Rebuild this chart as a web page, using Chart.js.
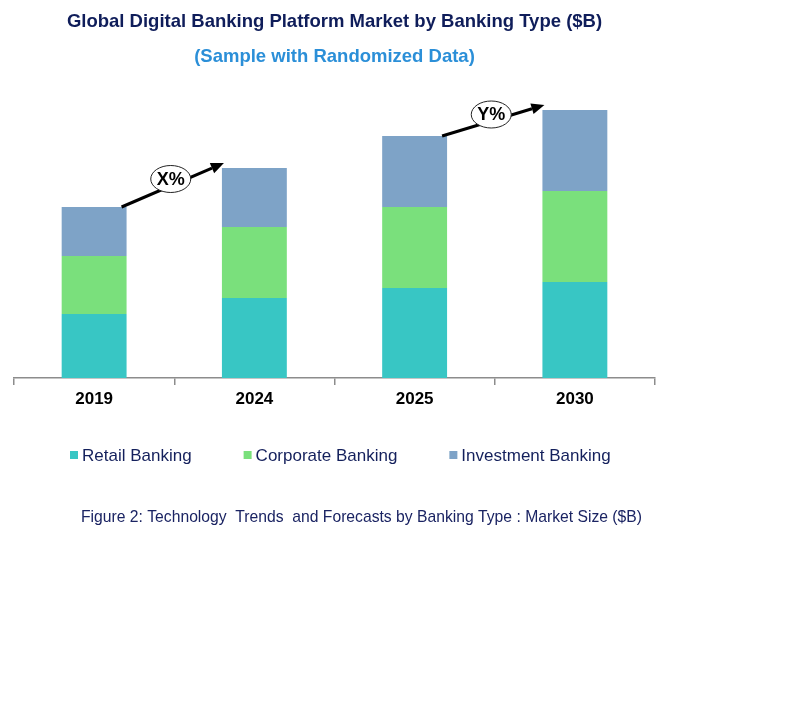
<!DOCTYPE html>
<html>
<head>
<meta charset="utf-8">
<script src="https://cdn.jsdelivr.net/npm/chart.js@4.4.1/dist/chart.umd.min.js"></script>
<style>
  html, body { margin: 0; padding: 0; background: #fff; }
  #wrap { position: relative; width: 785px; height: 703px; }
</style>
</head>
<body>
<div id="wrap"><canvas id="bankingChart"></canvas></div>
<script>
// --- Data ---
const years = ['2019', '2024', '2025', '2030'];
const retailBanking = [6.4, 8.0, 9.0, 9.6];
const corporateBanking = [5.8, 7.1, 8.1, 9.1];
const investmentBanking = [4.9, 5.9, 7.1, 8.1];
const seriesNames = ['Retail Banking', 'Corporate Banking', 'Investment Banking'];
const seriesColors = ['#38C6C4', '#7AE07C', '#7EA3C7'];
// growth arrows: [from bar, to bar, label]
const growthArrows = [[0, 1, 'X%'], [2, 3, 'Y%']];
const captionText = 'Figure 2: Technology  Trends  and Forecasts by Banking Type : Market Size ($B)';

const navy = '#14205c';

// arrows with ellipse labels between stacked bar tops
const arrowPlugin = {
    id: 'growthArrows',
    afterDatasetsDraw(chart) {
        const ctx = chart.ctx;
        const meta = chart.getDatasetMeta(chart.data.datasets.length - 1);
        growthArrows.forEach(([a, b, label]) => {
            const barA = meta.data[a];
            const barB = meta.data[b];
            const x1 = barA.x + barA.width / 2 - 5;
            const y1 = barA.y;
            const x2 = barB.x - barB.width / 2 + 2;
            const y2 = barB.y - 5;
            const ang = Math.atan2(y2 - y1, x2 - x1);
            const head = 13;
            const half = 5.5;

            ctx.save();
            ctx.strokeStyle = '#000';
            ctx.fillStyle = '#000';
            ctx.lineWidth = 3;
            ctx.beginPath();
            ctx.moveTo(x1, y1);
            ctx.lineTo(x2 - head * Math.cos(ang), y2 - head * Math.sin(ang));
            ctx.stroke();
            // arrow head
            ctx.beginPath();
            ctx.moveTo(x2, y2);
            ctx.lineTo(x2 - head * Math.cos(ang) + half * Math.sin(ang), y2 - head * Math.sin(ang) - half * Math.cos(ang));
            ctx.lineTo(x2 - head * Math.cos(ang) - half * Math.sin(ang), y2 - head * Math.sin(ang) + half * Math.cos(ang));
            ctx.closePath();
            ctx.fill();

            // ellipse label
            const cx = (x1 + x2) / 2 - 2;
            const cy = (y1 + y2) / 2 - 6;
            ctx.beginPath();
            ctx.ellipse(cx, cy, 20, 13.5, 0, 0, Math.PI * 2);
            ctx.fillStyle = '#fff';
            ctx.fill();
            ctx.lineWidth = 1;
            ctx.strokeStyle = '#222';
            ctx.stroke();
            ctx.fillStyle = '#000';
            ctx.font = 'bold 18px "Liberation Sans", Arial, sans-serif';
            ctx.textAlign = 'center';
            ctx.textBaseline = 'middle';
            ctx.fillText(label, cx, cy + 1);
            ctx.restore();
        });
    }
};

// legend row and figure caption under the axis
const legendCaptionPlugin = {
    id: 'legendCaption',
    afterDraw(chart) {
        const ctx = chart.ctx;
        const area = chart.chartArea;
        ctx.save();
        ctx.font = '17px "Liberation Sans", Arial, sans-serif';
        ctx.textBaseline = 'middle';
        ctx.textAlign = 'left';
        let x = area.left + 56;
        const y = 455;
        chart.data.datasets.forEach(ds => {
            ctx.fillStyle = ds.backgroundColor;
            ctx.fillRect(x, y - 4, 8, 8);
            ctx.fillStyle = navy;
            ctx.fillText(ds.label, x + 12, y + 1);
            x += 12 + ctx.measureText(ds.label).width + 52;
        });

        ctx.font = '15.7px "Liberation Sans", Arial, sans-serif';
        ctx.fillStyle = '#1b2463';
        ctx.fillText(captionText, 81, 518);
        ctx.restore();
    }
};

const ctx = document.getElementById('bankingChart').getContext('2d');
const bankingChart = new Chart(ctx, {
    type: 'bar',
    data: {
        labels: years,
        datasets: [
            { label: seriesNames[0], data: retailBanking, backgroundColor: seriesColors[0] },
            { label: seriesNames[1], data: corporateBanking, backgroundColor: seriesColors[1] },
            { label: seriesNames[2], data: investmentBanking, backgroundColor: seriesColors[2] }
        ]
    },
    options: {
        responsive: true,
        maintainAspectRatio: false,
        animation: false,
        layout: { padding: { left: 14, right: 130, top: 0, bottom: 289.6 } },
        datasets: {
            bar: { categoryPercentage: 1.0, barPercentage: 0.405, borderWidth: 0 }
        },
        plugins: {
            legend: { display: false },
            tooltip: { enabled: false },
            title: {
                display: true,
                text: 'Global Digital Banking Platform Market by Banking Type ($B)',
                color: '#0f1d5a',
                font: { family: '"Liberation Sans", Arial, sans-serif', size: 18.5, weight: 'bold' },
                padding: { top: 11, bottom: 12.7 }
            },
            subtitle: {
                display: true,
                text: '(Sample with Randomized Data)',
                color: '#2b8fd8',
                font: { family: '"Liberation Sans", Arial, sans-serif', size: 18.5, weight: 'bold' },
                padding: { top: 0, bottom: 9.9 }
            }
        },
        scales: {
            x: {
                stacked: true,
                grid: {
                    display: true,
                    drawOnChartArea: false,
                    drawTicks: true,
                    tickLength: 7,
                    color: '#8c8c8c',
                    lineWidth: 1.5
                },
                border: { display: true, color: '#8c8c8c', width: 1.5 },
                ticks: {
                    color: '#000',
                    padding: 4,
                    font: { family: '"Liberation Sans", Arial, sans-serif', size: 17, weight: 'bold' }
                }
            },
            y: {
                stacked: true,
                display: false,
                min: 0,
                max: 30
            }
        }
    },
    plugins: [arrowPlugin, legendCaptionPlugin]
});
</script>
</body>
</html>
